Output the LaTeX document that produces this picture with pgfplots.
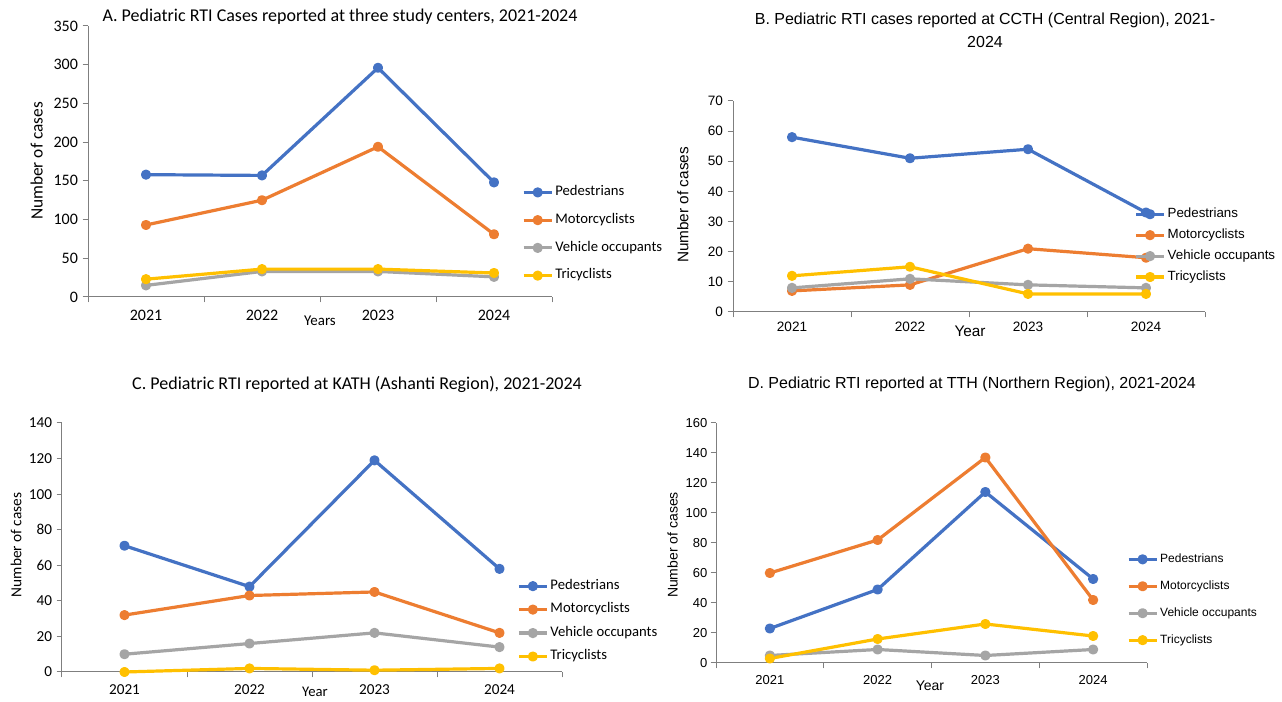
\documentclass[border=0pt]{standalone}
\usepackage{fontspec}
\setmainfont{Carlito}
\newfontfamily\arial{Liberation Sans}
\newfontfamily\calibri{Carlito}
\usepackage{pgfplots}
\pgfplotsset{compat=1.18}

\definecolor{cBlue}{HTML}{4472C4}
\definecolor{cOrange}{HTML}{ED7D31}
\definecolor{cGray}{HTML}{A5A5A5}
\definecolor{cYellow}{HTML}{FFC000}
\definecolor{axisgray}{HTML}{7F7F7F}

\pgfplotsset{
  rti/.style={
    scale only axis, anchor=south west,
    xmin=-0.5, xmax=3.5,
    xtick={-0.5,0.5,1.5,2.5,3.5}, xticklabels={},
    extra x ticks={0,1,2,3}, extra x tick labels={2021,2022,2023,2024},
    extra x tick style={major tick length=0pt},
    major tick length=4pt,
    axis x line*=bottom, axis y line*=left,
    axis line style={axisgray, line width=0.75pt, -},
    tick style={axisgray, line width=0.75pt},
    tick align=outside,
    ymin=0,
    clip=false,
    /pgf/number format/assume math mode=true,
    every axis plot/.append style={line width=2.4pt, mark=*, mark size=2.6pt, line join=round},
    legend cell align=left,
    legend image code/.code={\draw[mark repeat=2,mark phase=2,##1] plot coordinates {(0pt,0pt) (10.5pt,0pt) (21pt,0pt)};},
    legend style={draw=none, fill=none, inner sep=0pt, anchor=north west,
      nodes={inner sep=0pt, text height=0.7em, text depth=0.2em},
      /tikz/every odd column/.append style={column sep=1.5pt}},
  }
}

\begin{document}
\begin{tikzpicture}
\path[use as bounding box, fill=white] (0,0) rectangle (961.5pt,526.5pt);

% ---------- Panel A ----------
\begin{axis}[rti, at={(66pt,303.75pt)}, width=348pt, height=203.25pt,
  ymax=350, ytick distance=50,
  tick label style={font=\calibri\fontsize{12}{14}\selectfont, black},
  xticklabel style={yshift=-6.5pt},
  legend style={at={(0.935,0.409)}, font=\calibri\fontsize{11}{13}\selectfont, row sep=11.8pt}]
\addplot[cBlue] coordinates {(0,158) (1,157) (2,296) (3,148)};
\addplot[cOrange] coordinates {(0,93) (1,125) (2,194) (3,81)};
\addplot[cGray] coordinates {(0,15) (1,33) (2,33) (3,26)};
\addplot[cYellow] coordinates {(0,23) (1,36) (2,36) (3,31)};
\legend{Pedestrians,Motorcyclists,Vehicle occupants,Tricyclists}
\end{axis}
\node[font=\calibri\fontsize{13.5}{15}\selectfont] at (255pt,513.75pt) {A. Pediatric RTI Cases reported at three study centers, 2021-2024};
\node[font=\calibri\fontsize{13}{15}\selectfont, rotate=90] at (27.5pt,405.75pt) {Number of cases};
\node[font=\calibri\fontsize{11.2}{13}\selectfont] at (240pt,285.75pt) {Years};

% ---------- Panel B ----------
\begin{axis}[rti, at={(549.75pt,292.5pt)}, width=354pt, height=158.25pt,
  ymax=70, ytick distance=10,
  tick label style={font=\arial\fontsize{10.2}{12}\selectfont, black},
  xticklabel style={yshift=-4pt},
  legend style={at={(0.85,0.493)}, font=\arial\fontsize{10}{12}\selectfont, row sep=6.7pt}]
\addplot[cBlue] coordinates {(0,58) (1,51) (2,54) (3,33)};
\addplot[cOrange] coordinates {(0,7) (1,9) (2,21) (3,18)};
\addplot[cGray] coordinates {(0,8) (1,11) (2,9) (3,8)};
\addplot[cYellow] coordinates {(0,12) (1,15) (2,6) (3,6)};
\legend{Pedestrians,Motorcyclists,Vehicle occupants,Tricyclists}
\end{axis}
\node[font=\arial\fontsize{12}{17}\selectfont, align=center] at (738.75pt,504pt) {B. Pediatric RTI cases reported at CCTH (Central Region), 2021-\\2024};
\node[font=\arial\fontsize{11.5}{13}\selectfont, rotate=90] at (512.25pt,372.75pt) {Number of cases};
\node[font=\arial\fontsize{11.5}{13}\selectfont] at (727.5pt,278.25pt) {Year};

% ---------- Panel C ----------
\begin{axis}[rti, at={(46.5pt,22.5pt)}, width=375pt, height=186.75pt,
  ymax=140, ytick distance=20,
  tick label style={font=\calibri\fontsize{11.4}{13}\selectfont, black},
  xticklabel style={yshift=-6pt},
  legend style={at={(0.91,0.37)}, font=\calibri\fontsize{11}{13}\selectfont, row sep=8.6pt}]
\addplot[cBlue] coordinates {(0,71) (1,48) (2,119) (3,58)};
\addplot[cOrange] coordinates {(0,32) (1,43) (2,45) (3,22)};
\addplot[cGray] coordinates {(0,10) (1,16) (2,22) (3,14)};
\addplot[cYellow] coordinates {(0,0) (1,2) (2,1) (3,2)};
\legend{Pedestrians,Motorcyclists,Vehicle occupants,Tricyclists}
\end{axis}
\node[font=\calibri\fontsize{13.5}{15}\selectfont] at (267.75pt,238.5pt) {C. Pediatric RTI reported at KATH (Ashanti Region), 2021-2024};
\node[font=\calibri\fontsize{11.5}{13}\selectfont, rotate=90] at (12pt,117.75pt) {Number of cases};
\node[font=\calibri\fontsize{11}{13}\selectfont] at (236.25pt,7.5pt) {Year};

% ---------- Panel D ----------
\begin{axis}[rti, at={(537pt,29.25pt)}, width=323.25pt, height=180pt,
  ymax=160, ytick distance=20,
  tick label style={font=\arial\fontsize{9.75}{11}\selectfont, black},
  yticklabel style={xshift=1pt},
  xticklabel style={yshift=-5.5pt},
  legend style={at={(0.953,0.458)}, font=\arial\fontsize{9}{11}\selectfont, row sep=11.2pt}]
\addplot[cBlue] coordinates {(0,23) (1,49) (2,114) (3,56)};
\addplot[cOrange] coordinates {(0,60) (1,82) (2,137) (3,42)};
\addplot[cGray] coordinates {(0,5) (1,9) (2,5) (3,9)};
\addplot[cYellow] coordinates {(0,3) (1,16) (2,26) (3,18)};
\legend{Pedestrians,Motorcyclists,Vehicle occupants,Tricyclists}
\end{axis}
\node[font=\arial\fontsize{12}{14}\selectfont] at (729pt,238.5pt) {D. Pediatric RTI reported at TTH (Northern Region), 2021-2024};
\node[font=\arial\fontsize{10.5}{12}\selectfont, rotate=90] at (504.5pt,117.75pt) {Number of cases};
\node[font=\arial\fontsize{10.5}{12}\selectfont] at (697.5pt,12pt) {Year};
\end{tikzpicture}
\end{document}
